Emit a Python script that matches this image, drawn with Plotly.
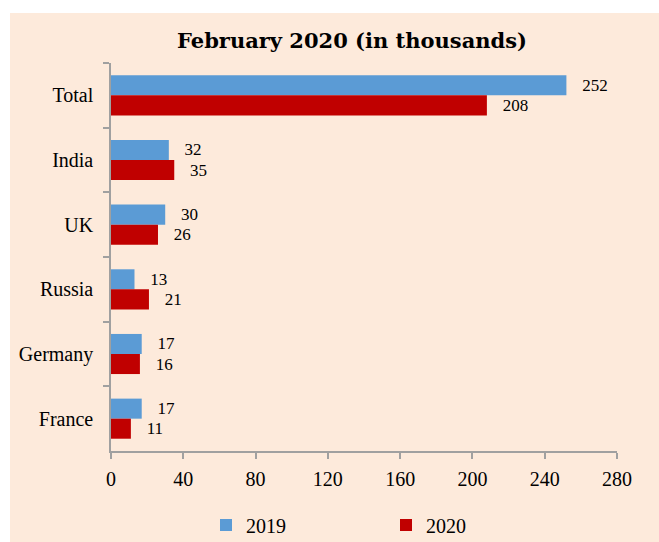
import plotly.graph_objects as go

categories = ["Total", "India", "UK", "Russia", "Germany", "France"]
values_2019 = [252, 32, 30, 13, 17, 17]
values_2020 = [208, 35, 26, 21, 16, 11]
x_ticks = [0, 40, 80, 120, 160, 200, 240, 280]

W, H = 659, 542
ML, MR, MT, MB = 111, 42, 63, 91
PW = W - ML - MR
PH = H - MT - MB

FONT = "Liberation Serif"
TITLE_FONT = "DejaVu Serif"
BLUE = "#5B9BD5"
RED = "#C00000"
BG = "#FDEADB"

fig = go.Figure()
fig.add_trace(go.Bar(
    y=categories, x=values_2019, name="2019", orientation="h",
    marker=dict(color=BLUE, line=dict(width=0)),
    text=values_2019, texttemplate="\u00a0\u00a0\u00a0%{x}", textposition="outside",
    textfont=dict(family=FONT, size=17, color="#000"), cliponaxis=False,
    legend="legend",
))
fig.add_trace(go.Bar(
    y=categories, x=values_2020, name="2020", orientation="h",
    marker=dict(color=RED, line=dict(width=0)),
    text=values_2020, texttemplate="\u00a0\u00a0\u00a0%{x}", textposition="outside",
    textfont=dict(family=FONT, size=17, color="#000"), cliponaxis=False,
    legend="legend2",
))

fig.add_shape(type="rect", xref="paper", yref="paper",
              x0=(10 - ML) / PW, x1=(W - ML) / PW,
              y0=-(H - MT - PH) / PH, y1=(H - MB - 13) / PH,
              fillcolor=BG, line=dict(width=0), layer="below")

leg_y = -(525 - MT - PH) / PH
fig.update_layout(
    width=W, height=H,
    margin=dict(l=ML, r=MR, t=MT, b=MB, autoexpand=False),
    paper_bgcolor="white", plot_bgcolor="rgba(0,0,0,0)",
    font=dict(family=FONT, size=20, color="#000"),
    title=dict(text="<b>February 2020 (in thousands)</b>", x=352 / W, xanchor="center",
               xref="container", y=1 - 41 / H, yanchor="middle", yref="container",
               font=dict(family=TITLE_FONT, size=21, color="#000")),
    barmode="group", bargap=0.38, bargroupgap=0,
    showlegend=True,
    legend=dict(x=(206 - ML) / PW, y=leg_y, xanchor="left", yanchor="middle",
                orientation="h", bgcolor="rgba(0,0,0,0)", itemwidth=30,
                font=dict(family=FONT, size=20)),
    legend2=dict(x=(386 - ML) / PW, y=leg_y, xanchor="left", yanchor="middle",
                 orientation="h", bgcolor="rgba(0,0,0,0)", itemwidth=30,
                 font=dict(family=FONT, size=20)),
    xaxis=dict(range=[0, 280], tickvals=x_ticks, ticktext=[str(v) for v in x_ticks],
               showgrid=False, zeroline=False, showline=True, linecolor="#A0A0A0", linewidth=1.5,
               ticks="outside", ticklen=6, tickcolor="#A0A0A0", tickwidth=1.5,
               tickfont=dict(family=FONT, size=20), ticklabelstandoff=3, fixedrange=True),
    yaxis=dict(categoryorder="array", categoryarray=categories, autorange="reversed",
               showgrid=False, zeroline=False, showline=True, linecolor="#A0A0A0", linewidth=1.5,
               ticks="outside", ticklen=6, tickcolor="#A0A0A0", tickwidth=1.5, tickson="boundaries",
               tickfont=dict(family=FONT, size=20), ticklabelstandoff=12, fixedrange=True),
)

fig.write_html("out.html")
